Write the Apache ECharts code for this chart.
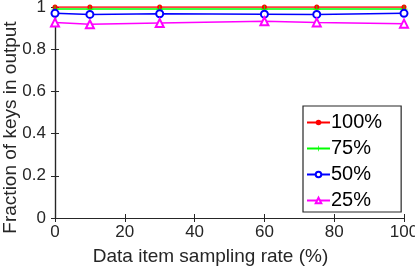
<!DOCTYPE html>
<html><head><meta charset="utf-8">
<script src="https://cdn.jsdelivr.net/npm/echarts@6/dist/echarts.min.js"></script>
<style>html,body{margin:0;padding:0;background:#fff}#c{width:415px;height:268px}</style>
</head><body><div id="c"></div>
<script>
const rates = [0, 10, 30, 60, 75, 100];
const s100 = [1, 1, 1, 1, 1, 1];
const s75 = [0.99, 0.99, 0.99, 0.99, 0.99, 0.99];
const s50 = [0.970, 0.965, 0.968, 0.966, 0.965, 0.970];
const s25 = [0.926, 0.918, 0.924, 0.932, 0.927, 0.921];
const names = ['100%', '75%', '50%', '25%'];
const xTicks = [0, 20, 40, 60, 80, 100];
const yTicks = [0, 0.2, 0.4, 0.6, 0.8, 1];

const font = 'Liberation Sans, Arial, sans-serif';
const pair = (ys) => rates.map((x, i) => [x, ys[i]]);
const plus = 'path://M4.4,0H5.6V4.4H10V5.6H5.6V10H4.4V5.6H0V4.4H4.4Z';

const chart = echarts.init(document.getElementById('c'), null, {renderer: 'canvas'});
const axisCommon = {
  axisLine: {show: true, lineStyle: {color: '#262626', width: 1.2}},
  axisTick: {show: true, inside: true, length: 4, lineStyle: {color: '#262626'}},
  splitLine: {show: false}
};
chart.setOption({
  animation: false,
  grid: {left: 55, right: 11, top: 7, bottom: 50, outerBoundsMode: 'none', containLabel: false},
  xAxis: [
    Object.assign({type: 'value', min: 0, max: 100, interval: 20, position: 'bottom',
      name: 'Data item sampling rate (%)', nameLocation: 'middle', nameGap: 29, nameMoveOverlap: false,
      nameTextStyle: {fontFamily: font, fontSize: 19, color: '#262626', padding: [0, 38, 0, 0]},
      axisLabel: {fontFamily: font, fontSize: 17, color: '#262626', margin: 6,
        formatter: v => xTicks.includes(v) ? String(v) : ''}}, axisCommon),
    Object.assign({type: 'value', min: 0, max: 100, interval: 20, position: 'top',
      axisLabel: {show: false}}, axisCommon)
  ],
  yAxis: [
    Object.assign({type: 'value', min: 0, max: 1, interval: 0.2, position: 'left',
      name: 'Fraction of keys in output', nameLocation: 'middle', nameGap: 35, nameMoveOverlap: false,
      nameTextStyle: {fontFamily: font, fontSize: 19, color: '#262626', padding: [0, 30, 0, 0]},
      axisLabel: {fontFamily: font, fontSize: 17, color: '#262626', margin: 9,
        formatter: v => { const t = yTicks.find(y => Math.abs(y - v) < 1e-9); return t === undefined ? '' : (t === 0 || t === 1 ? String(t) : t.toFixed(1)); }}}, axisCommon),
    Object.assign({type: 'value', min: 0, max: 1, interval: 0.2, position: 'right',
      axisLabel: {show: false}}, axisCommon)
  ],
  legend: {
    orient: 'vertical', left: 303, top: 106,
    data: names,
    backgroundColor: '#fff', borderColor: '#262626', borderWidth: 1.2,
    padding: [6, 19, 1, 3], itemGap: 5, itemWidth: 23, itemHeight: 7,
    textStyle: {fontFamily: font, fontSize: 20, lineHeight: 21, color: '#000', padding: [0, 0, 0, -4]}
  },
  series: [
    {name: names[0], type: 'line', data: pair(s100), color: '#ff0000',
      lineStyle: {width: 1.5}, symbol: 'circle', symbolSize: 5,
      itemStyle: {color: '#ff0000'}},
    {name: names[1], type: 'line', data: pair(s75), color: '#00ff00',
      lineStyle: {width: 1.5}, symbol: plus, symbolSize: 7,
      itemStyle: {color: '#00ff00'}},
    {name: names[2], type: 'line', data: pair(s50), color: '#0000ff',
      lineStyle: {width: 1.5}, symbol: 'emptyCircle', symbolSize: 7,
      itemStyle: {color: '#0000ff', borderWidth: 1.5}},
    {name: names[3], type: 'line', data: pair(s25), color: '#ff00ff',
      lineStyle: {width: 1.5}, symbol: 'emptyTriangle', symbolSize: 8,
      itemStyle: {color: '#ff00ff', borderWidth: 1.5}}
  ]
});
</script></body></html>
